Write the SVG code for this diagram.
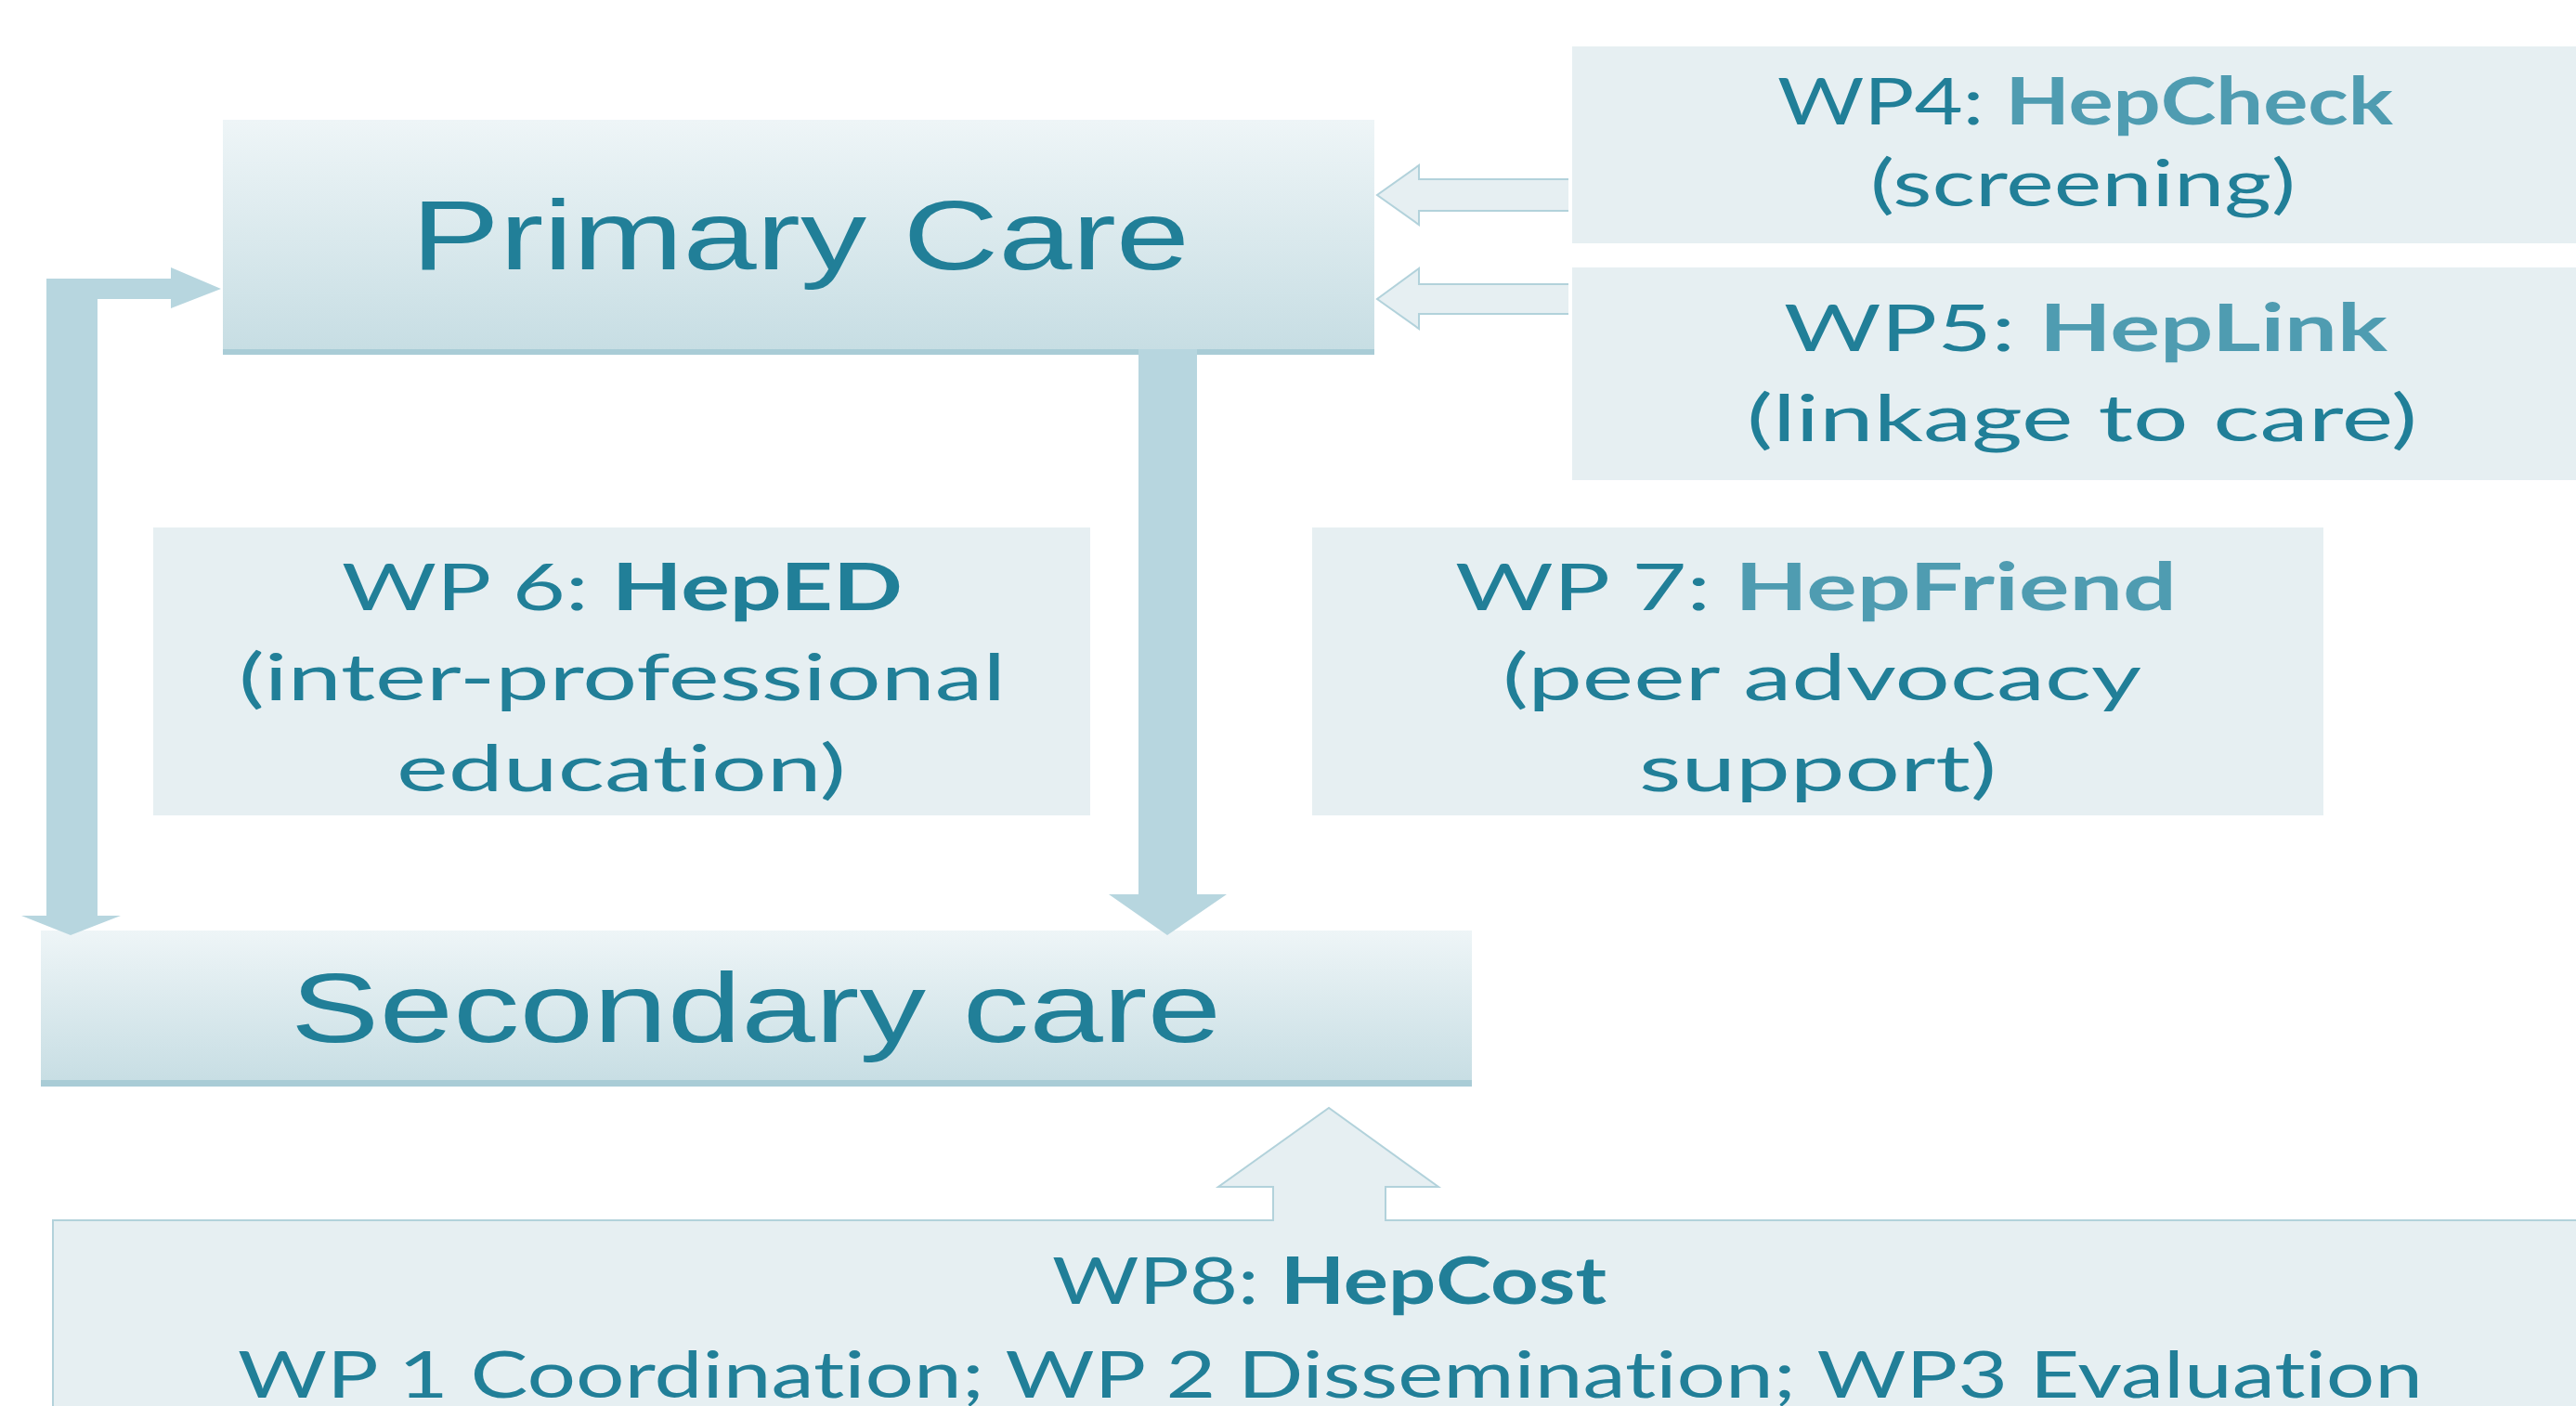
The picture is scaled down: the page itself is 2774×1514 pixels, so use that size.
<svg xmlns="http://www.w3.org/2000/svg" width="2774" height="1514" viewBox="0 0 2774 1514">
<defs>
<linearGradient id="boxGrad" x1="0" y1="0" x2="0" y2="1">
<stop offset="0" stop-color="#EEF5F7"/>
<stop offset="1" stop-color="#C6DDE3"/>
</linearGradient>
<style>
.big{font-family:"Liberation Sans",Arial,sans-serif;font-size:105px;fill:#217F98}
.wp{font-family:Lato,"Open Sans",sans-serif;font-size:70px;fill:#217F98;font-variant-ligatures:none;font-feature-settings:"liga" 0,"dlig" 0}
.b{font-weight:bold}
.lt{fill:#4F9CB1}
.pale{fill:#E6EFF2}
.band{fill:#A9CCD6}
.arrow{fill:#B7D6DF}
.thin{fill:#E6EFF2;stroke:#B2D2DB;stroke-width:2}
</style>
</defs>
<rect width="2774" height="1514" fill="#FFFFFF"/>

<g id="primary-care">
<rect x="240" y="129" width="1240" height="253" fill="url(#boxGrad)"/>
<rect class="band" x="240" y="376" width="1240" height="6"/>
<text class="big" x="443" y="290" textLength="838" lengthAdjust="spacingAndGlyphs">Primary Care</text>
</g>

<g id="secondary-care">
<rect x="44" y="1002" width="1541" height="168" fill="url(#boxGrad)"/>
<rect class="band" x="44" y="1163" width="1541" height="7"/>
<text class="big" x="313" y="1122" textLength="1002" lengthAdjust="spacingAndGlyphs">Secondary care</text>
</g>

<g id="wp4">
<rect class="pale" x="1693" y="50" width="1100" height="212"/>
<text class="wp" x="1914" y="134" textLength="663" lengthAdjust="spacingAndGlyphs">WP4: <tspan class="b lt">HepCheck</tspan></text>
<text class="wp" x="2014" y="222" textLength="458" lengthAdjust="spacingAndGlyphs">(screening)</text>
</g>

<g id="wp5">
<rect class="pale" x="1693" y="288" width="1100" height="229"/>
<text class="wp" x="1921" y="378" textLength="650" lengthAdjust="spacingAndGlyphs">WP5: <tspan class="b lt">HepLink</tspan></text>
<text class="wp" x="1881" y="475" textLength="722" lengthAdjust="spacingAndGlyphs">(linkage to care)</text>
</g>

<g id="wp6">
<rect class="pale" x="165" y="568" width="1009" height="310"/>
<text class="wp" x="368" y="657" textLength="604" lengthAdjust="spacingAndGlyphs">WP 6: <tspan class="b">HepED</tspan></text>
<text class="wp" x="257" y="754" textLength="826" lengthAdjust="spacingAndGlyphs">(inter-professional</text>
<text class="wp" x="427" y="852" textLength="484" lengthAdjust="spacingAndGlyphs">education)</text>
</g>

<g id="wp7">
<rect class="pale" x="1413" y="568" width="1089" height="310"/>
<text class="wp" x="1567" y="657" textLength="777" lengthAdjust="spacingAndGlyphs">WP 7: <tspan class="b lt">HepFriend</tspan></text>
<text class="wp" x="1618" y="754" textLength="688" lengthAdjust="spacingAndGlyphs">(peer advocacy</text>
<text class="wp" x="1765" y="852" textLength="385" lengthAdjust="spacingAndGlyphs">support)</text>
</g>

<g id="wp8">
<path class="thin" d="M57,1314 H1371 V1278 H1312 L1431,1193 L1549,1278 H1492 V1314 H2790 V1530 H57 Z"/>
<text class="wp" x="1133" y="1404" textLength="597" lengthAdjust="spacingAndGlyphs">WP8: <tspan class="b">HepCost</tspan></text>
<text class="wp" x="256" y="1505" textLength="2353" lengthAdjust="spacingAndGlyphs">WP 1 Coordination; WP 2 Dissemination; WP3 Evaluation</text>
</g>

<g id="connectors">
<path class="arrow" d="M50,300 H184 V288 L238,311 L184,332 V322 H105 V986 H130 L76,1007 L23,986 H50 Z"/>
<path class="arrow" d="M1226,376 H1289 V963 H1321 L1257,1007 L1194,963 H1226 Z"/>
<path class="thin" d="M1689,193 H1528 V178 L1483,210 L1528,242 V227 H1689"/>
<path class="thin" d="M1689,306 H1528 V289 L1483,322 L1528,354 V338 H1689"/>
</g>
</svg>
